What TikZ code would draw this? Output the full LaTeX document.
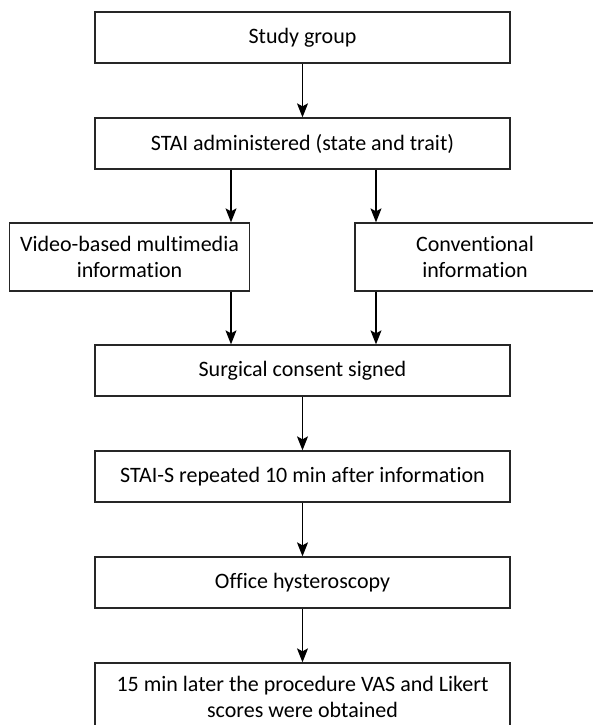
\documentclass[tikz,border=0pt]{standalone}
\usepackage{fontspec}
\setmainfont{Carlito}[Ligatures=NoCommon]
\usetikzlibrary{arrows.meta}

\tikzset{
  stepbox/.style={draw=black!85, line width=0.65pt, align=center,
    minimum width=207.5pt, minimum height=25.5pt, inner sep=0pt,
    font=\fontsize{11}{13}\selectfont},
  widebox/.style={stepbox, minimum width=120pt, minimum height=34pt},
  tallbox/.style={stepbox, minimum height=34pt},
  flow/.style={-{Stealth[length=7pt,width=5.5pt,inset=1.5pt]}, line width=0.6pt}
}

\begin{document}
\begin{tikzpicture}[x=0.5pt,y=-0.5pt]
      \clip (0,0) rectangle (593,725);

      \node[stepbox] (group)   at (302.5, 37.5) {Study group};
      \node[stepbox] (stai)    at (302.5,143.5) {STAI administered (state and trait)};

      \node[widebox] (video)   at (129.5,257)   {Video-based multimedia\\information};
      \node[widebox] (conv)    at (475,257)     {Conventional\\information};

      \node[stepbox] (consent) at (302.5,370.5) {Surgical consent signed};
      \node[stepbox] (repeat)  at (302.5,476.5) {STAI-S repeated 10 min after information};
      \node[stepbox] (office)  at (302.5,582.5) {Office hysteroscopy};
      \node[tallbox] (later)   at (302.5,697)
        {15 min later the procedure VAS and Likert\\scores were obtained};

      % main line
      \draw[flow] (group) -- (stai);

      % the two arms
      {
        \draw[flow] (stai.south -| 231,0) -- (video.north -| 231,0);
        \draw[flow] (stai.south -| 376,0) -- (conv.north -| 376,0);
      }

      {
        \draw[flow] (video.south -| 231,0) -- (consent.north -| 231,0);
        \draw[flow] (conv.south -| 376,0) -- (consent.north -| 376,0);
      }

      \draw[flow] (consent) -- (repeat);
      \draw[flow] (repeat) -- (office);
      \draw[flow] (office) -- (later);
    \end{tikzpicture}
\end{document}
